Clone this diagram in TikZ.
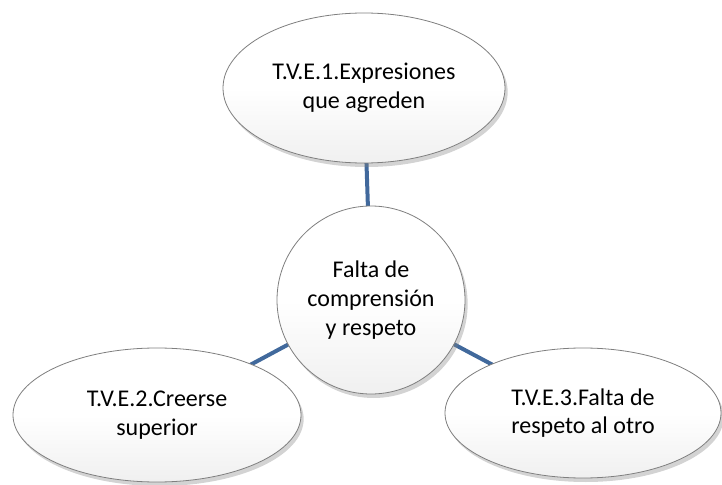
\documentclass[tikz,border=0pt]{standalone}
\usepackage{fontspec}
\setmainfont{Carlito}
\usetikzlibrary{shapes.geometric,shadows}
\definecolor{linkblue}{HTML}{41699C}
\definecolor{edgegray}{HTML}{7F7F7F}
\tikzset{
  bubble/.style={ellipse, draw=edgegray, line width=0.6pt, inner sep=0pt,
    top color=white, bottom color=gray!12, middle color=white,
    drop shadow={opacity=0.35, shadow xshift=2pt, shadow yshift=-3pt},
    align=center, font=\fontsize{18pt}{21.5pt}\selectfont},
  hub/.style={bubble, circle},
  link/.style={draw=linkblue, line width=3pt}
}
\begin{document}
\begin{tikzpicture}[x=0.75pt,y=-0.75pt]
\useasboundingbox (0,0) rectangle (722,485);
\coordinate (ct) at (364,88);
\coordinate (cc) at (371,300);
\coordinate (cl) at (157,415);
\coordinate (cr) at (583,413);
\draw[link] (ct) -- (cc);
\draw[link] (cc) -- (cl);
\draw[link] (cc) -- (cr);
\node[bubble, minimum width=211.5pt, minimum height=112.5pt] (top) at (ct) {T.V.E.1.Expresiones\\que agreden};
\node[hub, minimum size=141pt] (mid) at (cc) {Falta de\\comprensión\\y respeto};
\node[bubble, minimum width=216pt, minimum height=100.5pt] (left) at (cl) {T.V.E.2.Creerse\\superior};
\node[bubble, minimum width=207pt, minimum height=97.5pt] (right) at (cr) {T.V.E.3.Falta de\\respeto al otro};
\end{tikzpicture}
\end{document}
